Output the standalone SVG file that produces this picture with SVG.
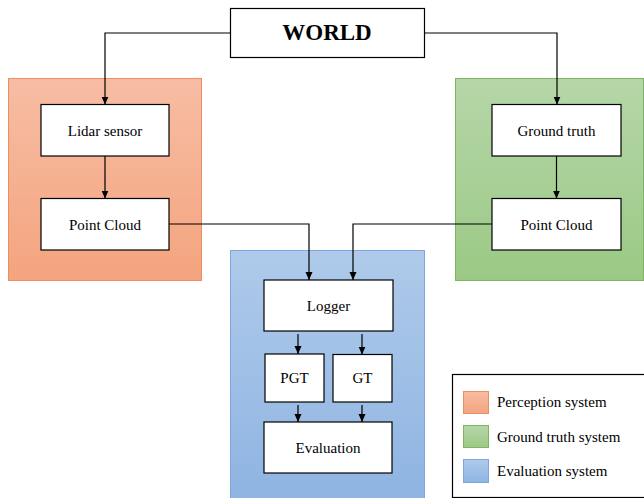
<svg xmlns="http://www.w3.org/2000/svg" width="644" height="498" viewBox="0 0 644 498">
<defs>
<linearGradient id="gO" x1="0" y1="0" x2="0" y2="1"><stop offset="0" stop-color="#F7BDA4"/><stop offset="1" stop-color="#F4A47E"/></linearGradient>
<linearGradient id="gG" x1="0" y1="0" x2="0" y2="1"><stop offset="0" stop-color="#B6D6A8"/><stop offset="1" stop-color="#9BC985"/></linearGradient>
<linearGradient id="gB" x1="0" y1="0" x2="0" y2="1"><stop offset="0" stop-color="#AFCAEA"/><stop offset="1" stop-color="#8EB4E2"/></linearGradient>
<marker id="ah" viewBox="0 0 8 8" refX="8" refY="4" markerWidth="8" markerHeight="8" markerUnits="userSpaceOnUse" orient="auto"><path d="M0,0.5 L8,4 L0,7.5 Z" fill="#000"/></marker>
</defs>
<style>
.box{fill:#fff;stroke:#000;stroke-width:1.2}
.t{font-family:"Liberation Serif","Times New Roman",serif;font-size:15px;fill:#000;text-anchor:middle}
.lt{font-family:"Liberation Serif","Times New Roman",serif;font-size:15px;fill:#000}
.c{fill:none;stroke:#000;stroke-width:1.2;marker-end:url(#ah)}
</style>
<g id="perception-system"><rect x="8.5" y="78.5" width="193" height="202" fill="url(#gO)" stroke="#EB8F63" stroke-width="1"/></g>
<g id="ground-truth-system"><rect x="455.5" y="78.5" width="188" height="202" fill="url(#gG)" stroke="#7FB462" stroke-width="1"/></g>
<g id="evaluation-system"><rect x="230.5" y="250.5" width="194" height="250" fill="url(#gB)" stroke="#7DA7DA" stroke-width="1"/></g>
<g id="world"><rect class="box" x="230.5" y="8.5" width="194" height="49"/><text class="t" x="327" y="40" style="font-size:23px;font-weight:bold">WORLD</text></g>
<g id="lidar-sensor"><rect class="box" x="41" y="104.5" width="128" height="51.5"/><text class="t" x="105" y="136">Lidar sensor</text></g>
<g id="point-cloud-left"><rect class="box" x="41" y="198.5" width="128" height="51.5"/><text class="t" x="105" y="230">Point Cloud</text></g>
<g id="ground-truth"><rect class="box" x="492" y="104.5" width="129" height="51.5"/><text class="t" x="556.5" y="136">Ground truth</text></g>
<g id="point-cloud-right"><rect class="box" x="492" y="198.5" width="129" height="51.5"/><text class="t" x="556.5" y="230">Point Cloud</text></g>
<g id="logger"><rect class="box" x="264" y="280" width="129" height="51"/><text class="t" x="328.5" y="311">Logger</text></g>
<g id="pgt"><rect class="box" x="265" y="354" width="59" height="48"/><text class="t" x="294.5" y="383">PGT</text></g>
<g id="gt"><rect class="box" x="333" y="354.5" width="59" height="47.5"/><text class="t" x="362.5" y="383">GT</text></g>
<g id="evaluation"><rect class="box" x="264" y="422" width="128" height="51"/><text class="t" x="328" y="453">Evaluation</text></g>
<g id="connectors">
<path class="c" d="M230.5,33 H105 V104.5"/>
<path class="c" d="M424.5,33 H557 V104.5"/>
<path class="c" d="M105,156 V198.5"/>
<path class="c" d="M556.5,156 V198.5"/>
<path class="c" d="M169,224 H309 V280"/>
<path class="c" d="M492,224 H353 V280"/>
<path class="c" d="M298,334 V354"/>
<path class="c" d="M362,334 V354.5"/>
<path class="c" d="M298,405 V422"/>
<path class="c" d="M362,405 V422"/>
</g>
<g id="legend">
<rect x="452.5" y="374.5" width="195" height="123" fill="#fff" stroke="#000" stroke-width="1.2"/>
<rect x="463.5" y="391.5" width="25" height="22" fill="url(#gO)" stroke="#EB8F63"/>
<rect x="463.5" y="425.5" width="25" height="22" fill="url(#gG)" stroke="#7FB462"/>
<rect x="463.5" y="459.5" width="25" height="23" fill="url(#gB)" stroke="#7DA7DA"/>
<text class="lt" x="497" y="407">Perception system</text>
<text class="lt" x="497" y="442">Ground truth system</text>
<text class="lt" x="497" y="476">Evaluation system</text>
</g>
</svg>
